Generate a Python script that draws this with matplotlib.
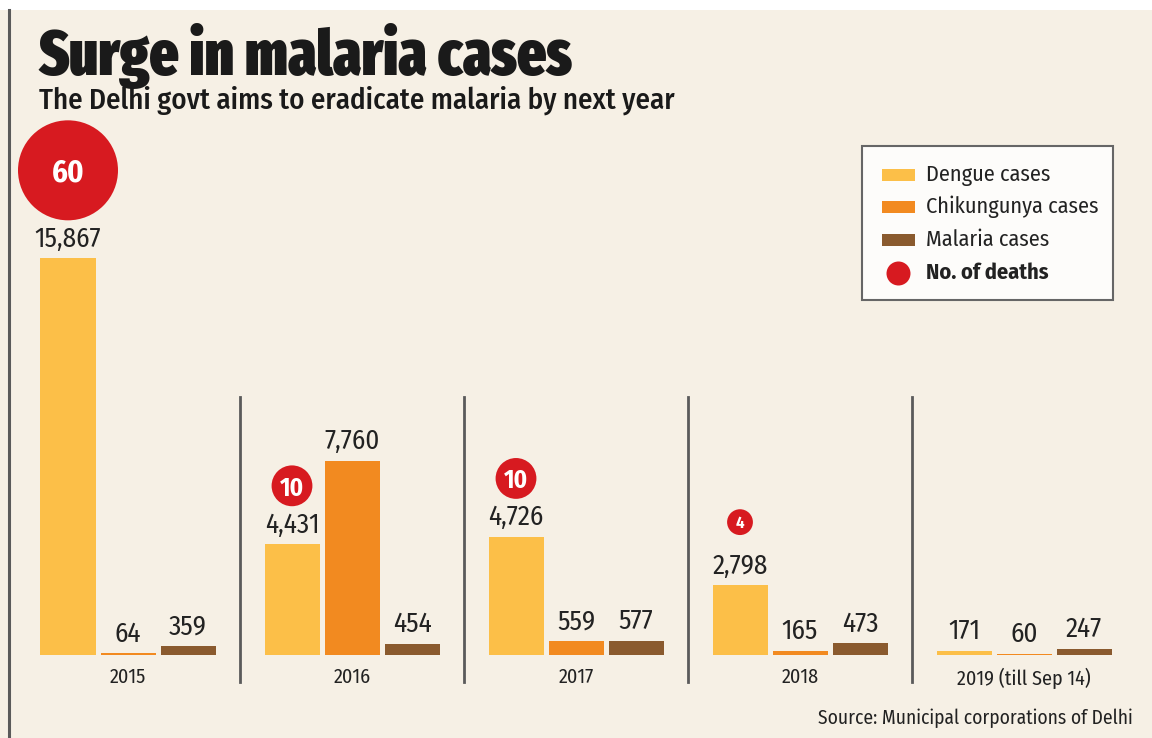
import matplotlib
matplotlib.use("Agg")
import matplotlib.pyplot as plt
from matplotlib.patches import Rectangle
from matplotlib.lines import Line2D
import numpy as np

# ---------------- data ----------------
years = ["2015", "2016", "2017", "2018", "2019 (till Sep 14)"]
dengue = [15867, 4431, 4726, 2798, 171]
chikungunya = [64, 7760, 559, 165, 60]
malaria = [359, 454, 577, 473, 247]
deaths = [60, 10, 10, 4, None]
series_names = ["Dengue cases", "Chikungunya cases", "Malaria cases"]
death_label = "No. of deaths"
title = "Surge in malaria cases"
subtitle = "The Delhi govt aims to eradicate malaria by next year"
source = "Source: Municipal corporations of Delhi"

# ---------------- style ----------------
W, H = 1152, 738
DPI = 100
BG = "#f6f0e5"
C_DENGUE = "#fcbf48"
C_CHIK = "#f28a20"
C_MAL = "#8a5a2e"
C_RED = "#d71a20"
TXT = "#222222"
LINE = "#5a5a5a"
BODY = ["Fira Sans Condensed", "DejaVu Sans"]
HEAD = ["Fira Sans Extra Condensed", "Fira Sans Condensed", "DejaVu Sans"]
plt.rcParams["font.family"] = BODY

fig = plt.figure(figsize=(W / DPI, H / DPI), dpi=DPI)
fig.patch.set_facecolor(BG)

def fx(px):
    return px / W

def fy(py):
    return 1 - py / H

# top white strip and left rule
fig.add_artist(Rectangle((0, fy(10)), 1, 10 / H, transform=fig.transFigure,
                         facecolor="white", edgecolor="none", zorder=0))
fig.add_artist(Line2D([fx(9), fx(9)], [fy(10), 0], transform=fig.transFigure,
                      color=LINE, lw=2.2))

# main axes covering the whole figure; y in cases (40 cases per pixel)
PX_PER_CASE = 1 / 40.0
BASE_PX = 655
ax = fig.add_axes([0, 0, 1, 1])
ax.set_facecolor("none")
ax.set_ylim(-(H - BASE_PX) / PX_PER_CASE, BASE_PX / PX_PER_CASE)
GROUP_PITCH = 224.0
G0 = 128.0
ax.set_xlim(-G0 / GROUP_PITCH, (W - G0) / GROUP_PITCH)
ax.axis("off")

x = np.arange(len(years))
off = 60 / GROUP_PITCH
bw = 55 / GROUP_PITCH
series = [dengue, chikungunya, malaria]
colors = [C_DENGUE, C_CHIK, C_MAL]
for k, (vals, col) in enumerate(zip(series, colors)):
    xs = x + (k - 1) * off
    ax.bar(xs, vals, width=bw, color=col, edgecolor="none", zorder=2)
    for xi, v in zip(xs, vals):
        ax.annotate(f"{v:,}", (xi, v), xytext=(0, 6), textcoords="offset pixels",
                    ha="center", va="bottom", fontsize=19.5, color=TXT)

# year labels
for xi, y in zip(x, years):
    ax.annotate(y, (xi, 0), xytext=(0, -13), textcoords="offset pixels",
                ha="center", va="top", fontsize=14.5, color=TXT)

# separators
for i in range(len(years) - 1):
    xm = i + 0.5
    ax.plot([xm, xm], [(BASE_PX - 397) / PX_PER_CASE, (BASE_PX - 682) / PX_PER_CASE],
            color=LINE, lw=2, zorder=1)

# deaths circles (area proportional to deaths)
R60 = 50.0  # px radius for 60 deaths
for xi, v, d in zip(x - off, dengue, deaths):
    if d is None:
        continue
    r = R60 * np.sqrt(d / 60.0)
    gap = 10 if d >= 10 else 22
    cy = v + (6 + 22 + gap + r) / PX_PER_CASE
    ax.scatter([xi], [cy], s=(2 * r * 72 / DPI) ** 2, color=C_RED, zorder=3,
               edgecolors="none")
    fs = 22 if d >= 60 else (18 if d >= 10 else 12)
    ax.text(xi, cy, str(d), ha="center", va="center_baseline", fontsize=fs,
            color="white", fontweight="bold", zorder=4)

# title & subtitle
fig.text(fx(39), fy(75), title, fontsize=44.8, fontweight="black", color="#1a1a1a",
         ha="left", va="baseline", family=HEAD)
fig.text(fx(39), fy(109), subtitle, fontsize=20.8, fontweight="medium", color="#1a1a1a",
         ha="left", va="baseline")

# source
fig.text(fx(1133), fy(718), source, fontsize=14, color=TXT, ha="right", va="center")

# legend (manual)
fig.add_artist(Rectangle((fx(862), fy(300)), (1113 - 862) / W, (300 - 146) / H,
                         transform=fig.transFigure, facecolor="#fdfcfa",
                         edgecolor="#666666", lw=1.5, zorder=5))
rows = [175, 207, 240, 273]
for name, col, ry in zip(series_names, colors, rows[:3]):
    fig.add_artist(Rectangle((fx(882), fy(ry + 6)), 33 / W, 12 / H,
                             transform=fig.transFigure, facecolor=col,
                             edgecolor="none", zorder=6))
    fig.text(fx(926), fy(ry), name, fontsize=16, color=TXT, ha="left",
             va="center", zorder=6)
fig.add_artist(Line2D([fx(898)], [fy(rows[3])], transform=fig.transFigure,
                      marker="o", markersize=24 * 72 / DPI, color=C_RED,
                      markeredgewidth=0, linestyle="none", zorder=6))
fig.text(fx(926), fy(rows[3]), death_label, fontsize=16, fontweight="bold",
         color=TXT, ha="left", va="center", zorder=6)

fig.savefig("out.png", dpi=DPI, facecolor=fig.get_facecolor())
